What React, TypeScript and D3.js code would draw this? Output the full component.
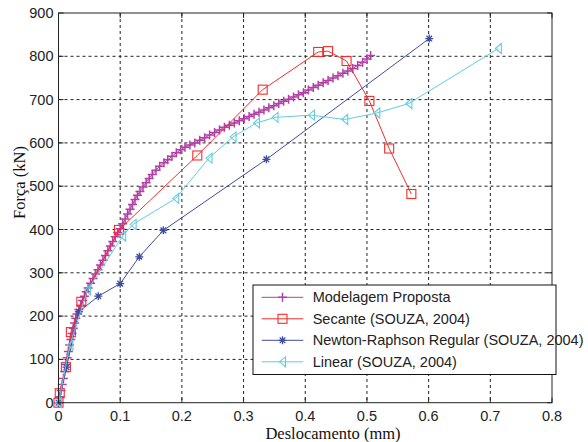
import * as d3 from "d3";

// Força x Deslocamento curves
const modelagem: [number, number][] = [
  [0, 0], [0.002, 14], [0.004, 28], [0.006, 42], [0.008, 56], [0.01, 72], [0.012, 88],
  [0.014, 104], [0.016, 118], [0.018, 133], [0.02, 146], [0.022, 160], [0.024, 172],
  [0.026, 184], [0.028, 195], [0.03, 205], [0.033, 215], [0.036, 225], [0.039, 236],
  [0.042, 246], [0.045, 256], [0.048, 265], [0.052, 276], [0.056, 287], [0.06, 297],
  [0.064, 307], [0.068, 318], [0.072, 329], [0.076, 340], [0.08, 351], [0.084, 362],
  [0.088, 372], [0.092, 383], [0.096, 393], [0.1, 402], [0.104, 413], [0.108, 424],
  [0.112, 436], [0.116, 447], [0.12, 458], [0.124, 469], [0.128, 479], [0.132, 488],
  [0.137, 498], [0.142, 508], [0.147, 518], [0.152, 527], [0.158, 537], [0.164, 546],
  [0.171, 554], [0.177, 561], [0.184, 569], [0.191, 577], [0.198, 584], [0.205, 590],
  [0.213, 595], [0.221, 600], [0.229, 606], [0.237, 612], [0.245, 618], [0.253, 624],
  [0.261, 630], [0.269, 636], [0.277, 641], [0.285, 646], [0.293, 651], [0.301, 656],
  [0.309, 661], [0.317, 666], [0.325, 671], [0.333, 676], [0.341, 681], [0.349, 686],
  [0.357, 691], [0.365, 696], [0.373, 701], [0.381, 706], [0.389, 711], [0.397, 716],
  [0.405, 722], [0.413, 728], [0.421, 733], [0.429, 739], [0.437, 744], [0.445, 750],
  [0.453, 755], [0.461, 761], [0.469, 766], [0.477, 772], [0.485, 779], [0.493, 786],
  [0.5, 794], [0.506, 802],
];

const secante: [number, number][] = [
  [0, 0], [0.002, 22], [0.012, 82], [0.02, 163], [0.037, 233], [0.098, 399],
  [0.225, 571], [0.331, 723], [0.421, 810], [0.437, 812], [0.467, 789],
  [0.504, 697], [0.536, 587], [0.572, 482],
];

const newton: [number, number][] = [
  [0, 0], [0.013, 82], [0.033, 210], [0.0645, 246], [0.1, 275], [0.131, 337],
  [0.17, 398], [0.337, 562], [0.601, 841],
];

const linear: [number, number][] = [
  [0, 0], [0.0186, 133], [0.047, 260], [0.104, 385], [0.121, 412], [0.19, 472],
  [0.244, 565], [0.283, 614], [0.321, 646], [0.351, 659], [0.41, 664], [0.464, 654],
  [0.516, 669], [0.568, 691], [0.713, 818],
];

const xTicks = [0, 0.1, 0.2, 0.3, 0.4, 0.5, 0.6, 0.7, 0.8];
const yTicks = [0, 100, 200, 300, 400, 500, 600, 700, 800, 900];

const series = [
  { name: "Modelagem Proposta", data: modelagem, color: "#B23FA6", marker: "plus" },
  { name: "Secante (SOUZA, 2004)", data: secante, color: "#F42C2C", marker: "square" },
  { name: "Newton-Raphson Regular (SOUZA, 2004)", data: newton, color: "#3F4EA2", marker: "star" },
  { name: "Linear (SOUZA, 2004)", data: linear, color: "#62CCDF", marker: "triangle" },
];

const left = 58.5, right = 552, top = 13, bottom = 402.7;

const x = d3.scaleLinear().domain([0, 0.8]).range([left, right]);
const y = d3.scaleLinear().domain([0, 900]).range([bottom, top]);

const line = d3.line<[number, number]>()
  .x((d) => x(d[0]))
  .y((d) => y(d[1]));

function Marker({ type, cx, cy, color }: { type: string; cx: number; cy: number; color: string }) {
  if (type === "plus") {
    return (
      <path d={`M${cx - 4.5},${cy}H${cx + 4.5}M${cx},${cy - 4.5}V${cy + 4.5}`} stroke={color} strokeWidth={1.5} fill="none" />
    );
  }
  if (type === "square") {
    return <rect x={cx - 4.5} y={cy - 4.5} width={9} height={9} stroke={color} strokeWidth={1.1} fill="none" />;
  }
  if (type === "star") {
    const r = 4;
    const k = r * 0.7;
    return (
      <path
        d={`M${cx - r},${cy}H${cx + r}M${cx},${cy - r}V${cy + r}M${cx - k},${cy - k}L${cx + k},${cy + k}M${cx - k},${cy + k}L${cx + k},${cy - k}`}
        stroke={color}
        strokeWidth={1.3}
        fill="none"
      />
    );
  }
  // left-pointing triangle
  return (
    <path
      d={`M${cx - 3},${cy}L${cx + 3},${cy - 5}L${cx + 3},${cy + 5}Z`}
      stroke={color}
      strokeWidth={1.1}
      fill="none"
    />
  );
}

export default function App() {
  const tickFont = "Arial, 'Liberation Sans', sans-serif";
  const serif = "'Times New Roman', 'Liberation Serif', serif";

  const legX = 253, legY = 285, legW = 303, rowH = 21.5;

  return (
    <svg width={588} height={442} style={{ position: "absolute", left: 0, top: 0, background: "#fff" }}>
      <rect width={588} height={442} fill="#fff" />

      {/* grid */}
      {xTicks.slice(1, -1).map((t) => (
        <line key={`gx${t}`} x1={x(t)} x2={x(t)} y1={top} y2={bottom} stroke="#222" strokeDasharray="3,3" strokeWidth={1} />
      ))}
      {yTicks.slice(1, -1).map((t) => (
        <line key={`gy${t}`} x1={left} x2={right} y1={y(t)} y2={y(t)} stroke="#222" strokeDasharray="3,3" strokeWidth={1} />
      ))}

      {/* ticks (inward, all sides) */}
      {xTicks.map((t) => (
        <g key={`tx${t}`}>
          <line x1={x(t)} x2={x(t)} y1={bottom} y2={bottom - 5} stroke="#222" />
          <line x1={x(t)} x2={x(t)} y1={top} y2={top + 5} stroke="#222" />
          <text x={x(t)} y={421} fontSize={14.5} fontFamily={tickFont} fill="#222" textAnchor="middle">
            {t}
          </text>
        </g>
      ))}
      {yTicks.map((t) => (
        <g key={`ty${t}`}>
          <line x1={left} x2={left + 5} y1={y(t)} y2={y(t)} stroke="#222" />
          <line x1={right} x2={right - 5} y1={y(t)} y2={y(t)} stroke="#222" />
          <text x={53.5} y={y(t) + 5} fontSize={14.5} fontFamily={tickFont} fill="#222" textAnchor="end">
            {t}
          </text>
        </g>
      ))}

      {/* series */}
      {series.map((s) => (
        <g key={s.name}>
          <path d={line(s.data) ?? ""} fill="none" stroke={s.color} strokeWidth={1} />
          {s.data.map((d, i) => (
            <Marker key={i} type={s.marker} cx={x(d[0])} cy={y(d[1])} color={s.color} />
          ))}
        </g>
      ))}

      {/* axes box */}
      <rect x={left} y={top} width={right - left} height={bottom - top} fill="none" stroke="#222" strokeWidth={1} />

      {/* axis labels */}
      <text x={333} y={439} fontSize={16.5} fontFamily={serif} fill="#111" textAnchor="middle">
        Deslocamento (mm)
      </text>
      <text
        transform={`translate(25,${182.5}) rotate(-90)`}
        fontSize={16.5}
        fontFamily={serif}
        fill="#111"
        textAnchor="middle"
      >
        Força (kN)
      </text>

      {/* legend */}
      <rect x={legX} y={legY} width={legW} height={89.5} fill="#fff" stroke="#111" strokeWidth={1} />
      {series.map((s, i) => {
        const cy = 297.3 + i * rowH;
        return (
          <g key={`leg${s.name}`}>
            <line x1={261.7} x2={303.3} y1={cy} y2={cy} stroke={s.color} strokeWidth={1} />
            <Marker type={s.marker} cx={282.5} cy={cy} color={s.color} />
            <text x={312.7} y={cy + 5} fontSize={14.5} fontFamily={tickFont} fill="#222">
              {s.name}
            </text>
          </g>
        );
      })}
    </svg>
  );
}
